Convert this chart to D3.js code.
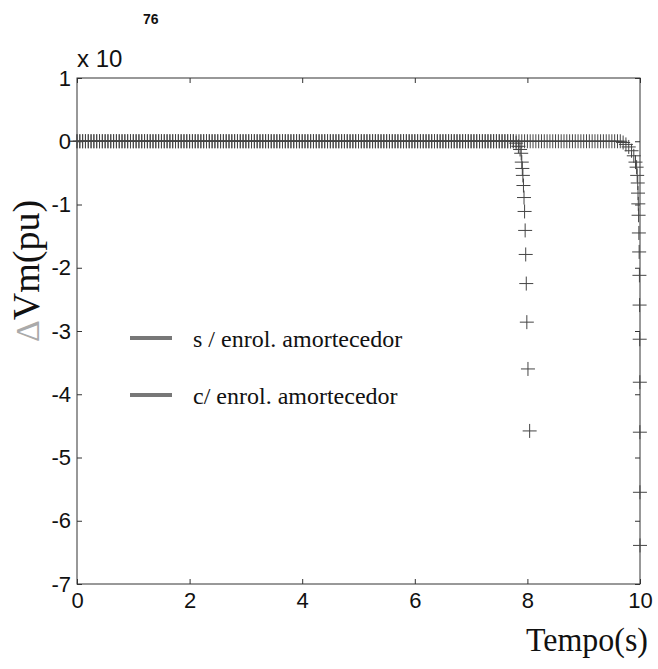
<!DOCTYPE html>
<html><head><meta charset="utf-8">
<script src="https://cdn.jsdelivr.net/npm/d3@7"></script>
<style>body{margin:0;background:#fff}</style></head>
<body><svg id="c" width="658" height="669"></svg>
<script>
// ---- data ----
const xTicks = [0, 2, 4, 6, 8, 10];
const yTicks = [1, 0, -1, -2, -3, -4, -5, -6, -7];
const seriesNames = ["s / enrol. amortecedor", "c/ enrol. amortecedor"];

// sampling instants of the flat (zero) part, shared by both runs (s)
const flatTime = [
0,0.05,0.1,0.15,0.2,0.25,0.3,0.35,0.4,0.45,0.5,0.55,0.6,0.65,0.7,0.75,0.8,0.85,0.9,0.95,
1,1.05,1.1,1.15,1.2,1.25,1.3,1.35,1.4,1.45,1.5,1.55,1.6,1.65,1.7,1.75,1.8,1.85,1.9,1.95,
2,2.05,2.1,2.15,2.2,2.25,2.3,2.35,2.4,2.45,2.5,2.55,2.6,2.65,2.7,2.75,2.8,2.85,2.9,2.95,
3,3.05,3.1,3.15,3.2,3.25,3.3,3.35,3.4,3.45,3.5,3.55,3.6,3.65,3.7,3.75,3.8,3.85,3.9,3.95,
4,4.05,4.1,4.15,4.2,4.25,4.3,4.35,4.4,4.45,4.5,4.55,4.6,4.65,4.7,4.75,4.8,4.85,4.9,4.95,
5,5.05,5.1,5.15,5.2,5.25,5.3,5.35,5.4,5.45,5.5,5.55,5.6,5.65,5.7,5.75,5.8,5.85,5.9,5.95,
6,6.05,6.1,6.15,6.2,6.25,6.3,6.35,6.4,6.45,6.5,6.55,6.6,6.65,6.7,6.75,6.8,6.85,6.9,6.95,
7,7.05,7.1,7.15,7.2,7.25,7.3,7.35,7.4,7.45,7.5,7.55,7.6,7.65,7.7,7.75,7.8,7.85,7.9,7.95,
8,8.05,8.1,8.15,8.2,8.25,8.3,8.35,8.4,8.45,8.5,8.55,8.6,8.65,8.7,8.75,8.8,8.85,8.9,8.95,
9,9.05,9.1,9.15,9.2,9.25,9.3,9.35,9.4,9.45,9.5,9.55,9.6,9.65
];

// s / enrol. amortecedor : flat part (first 156 instants) then the fall near t = 8 s  (x 10^76 pu)
const s1FlatValue = [
0,0,0,0,0,0,0,0,0,0,0,0,0,0,0,0,0,0,0,0,
0,0,0,0,0,0,0,0,0,0,0,0,0,0,0,0,0,0,0,0,
0,0,0,0,0,0,0,0,0,0,0,0,0,0,0,0,0,0,0,0,
0,0,0,0,0,0,0,0,0,0,0,0,0,0,0,0,0,0,0,0,
0,0,0,0,0,0,0,0,0,0,0,0,0,0,0,0,0,0,0,0,
0,0,0,0,0,0,0,0,0,0,0,0,0,0,0,0,0,0,0,0,
0,0,0,0,0,0,0,0,0,0,0,0,0,0,0,0,0,0,0,0,
0,0,0,0,0,0,0,0,0,0,0,0,0,0,0,0
];
const s1Time  = [7.80, 7.84, 7.87, 7.89, 7.90, 7.91, 7.92, 7.93, 7.94, 7.95, 7.96, 7.97, 7.98, 7.99, 8.01, 8.04];
const s1Value = [-0.03,-0.08,-0.13,-0.19,-0.33,-0.43,-0.54,-0.70,-0.89,-1.11,-1.41,-1.79,-2.25,-2.86,-3.60,-4.58];

// c/ enrol. amortecedor : flat part (first 194 instants) then the fall near t = 10 s
const s2FlatValue = [
0,0,0,0,0,0,0,0,0,0,0,0,0,0,0,0,0,0,0,0,
0,0,0,0,0,0,0,0,0,0,0,0,0,0,0,0,0,0,0,0,
0,0,0,0,0,0,0,0,0,0,0,0,0,0,0,0,0,0,0,0,
0,0,0,0,0,0,0,0,0,0,0,0,0,0,0,0,0,0,0,0,
0,0,0,0,0,0,0,0,0,0,0,0,0,0,0,0,0,0,0,0,
0,0,0,0,0,0,0,0,0,0,0,0,0,0,0,0,0,0,0,0,
0,0,0,0,0,0,0,0,0,0,0,0,0,0,0,0,0,0,0,0,
0,0,0,0,0,0,0,0,0,0,0,0,0,0,0,0,0,0,0,0,
0,0,0,0,0,0,0,0,0,0,0,0,0,0,0,0,0,0,0,0,
0,0,0,0,0,0,0,0,0,0,0,0,0,0
];
const s2Time  = [9.70, 9.75, 9.80, 9.85, 9.89, 9.92, 9.94, 9.95, 9.96, 9.965, 9.97, 9.975, 9.98, 9.985, 9.99, 9.993, 9.995, 9.997, 9.998, 9.999, 10.0];
const s2Value = [-0.02,-0.05,-0.09,-0.15,-0.23,-0.33,-0.41,-0.54,-0.66,-0.82,-0.99,-1.17,-1.45,-1.75,-2.12,-2.59,-3.13,-3.81,-4.60,-5.55,-6.39];

// ---- drawing ----
const svg = d3.select("#c");
const L = 77, R = 640, T = 78, B = 584;
const x = d3.scaleLinear().domain([0, 10]).range([L, R]);
const y = d3.scaleLinear().domain([-7, 1]).range([B, T]);
const sans = "'Liberation Sans', Arial, sans-serif";
const serif = "'Liberation Serif', 'Times New Roman', serif";
const axisCol = "#333";

function pts(flatVals, t, v) {
  return flatVals.map((d, i) => [flatTime[i], d]).concat(t.map((d, i) => [d, v[i]]));
}
const series = [pts(s1FlatValue, s1Time, s1Value), pts(s2FlatValue, s2Time, s2Value)];

// axes
const gB = svg.append("g").attr("transform", `translate(0,${B})`)
  .call(d3.axisBottom(x).tickValues(xTicks).tickSizeInner(-5).tickSizeOuter(0).tickPadding(8).tickFormat(d => String(d)));
const gT = svg.append("g").attr("transform", `translate(0,${T})`)
  .call(d3.axisTop(x).tickValues(xTicks).tickSizeInner(-5).tickSizeOuter(0).tickFormat(""));
const gL = svg.append("g").attr("transform", `translate(${L},0)`)
  .call(d3.axisLeft(y).tickValues(yTicks).tickSizeInner(-5).tickSizeOuter(0).tickPadding(6).tickFormat(d => String(d)));
const gR = svg.append("g").attr("transform", `translate(${R},0)`)
  .call(d3.axisRight(y).tickValues(yTicks).tickSizeInner(-5).tickSizeOuter(0).tickFormat(""));
[gB, gT, gL, gR].forEach(g => {
  g.select(".domain").remove();
  g.selectAll("line").attr("stroke", axisCol);
  g.selectAll("text").attr("font-family", sans).attr("font-size", 22).attr("fill", "#111");
});
svg.append("rect").attr("x", L).attr("y", T).attr("width", R - L).attr("height", B - T)
  .attr("fill", "none").attr("stroke", axisCol).attr("stroke-width", 1);

// markers
const plus = "M-7,0H7M0,-7V7";
series.slice().reverse().forEach(s => {
  svg.append("g").selectAll("path").data(s).join("path")
    .attr("d", plus)
    .attr("transform", d => `translate(${x(d[0])},${y(d[1])})`)
    .attr("fill", "none").attr("stroke", "#444").attr("stroke-width", 1);
});

// exponent
svg.append("text").attr("x", 77).attr("y", 67).attr("font-family", sans).attr("font-size", 24)
  .attr("fill", "#111").text("x 10");
svg.append("text").attr("x", 143).attr("y", 24).attr("font-family", sans).attr("font-size", 14)
  .attr("font-weight", "bold").attr("fill", "#111").text("76");

// y label
const yl = svg.append("text").attr("transform", "translate(39,271) rotate(-90)")
  .attr("text-anchor", "middle").attr("font-family", serif).attr("font-size", 38).attr("fill", "#111");
yl.append("tspan").attr("font-size", 34).attr("fill", "#aaa").text("Δ");
yl.append("tspan").text("Vm(pu)");

// x label
svg.append("text").attr("x", 526).attr("y", 651).attr("font-family", serif).attr("font-size", 34)
  .attr("textLength", 122).attr("lengthAdjust", "spacingAndGlyphs").attr("fill", "#111").text("Tempo(s)");

// legend
const legY = [338, 395];
seriesNames.forEach((n, i) => {
  svg.append("line").attr("x1", 130).attr("x2", 172).attr("y1", legY[i]).attr("y2", legY[i])
    .attr("stroke", "#777").attr("stroke-width", 4);
  svg.append("text").attr("x", 193).attr("y", legY[i] + 9).attr("font-family", serif).attr("font-size", 24)
    .attr("fill", "#111").text(n);
});
</script>
</body></html>
